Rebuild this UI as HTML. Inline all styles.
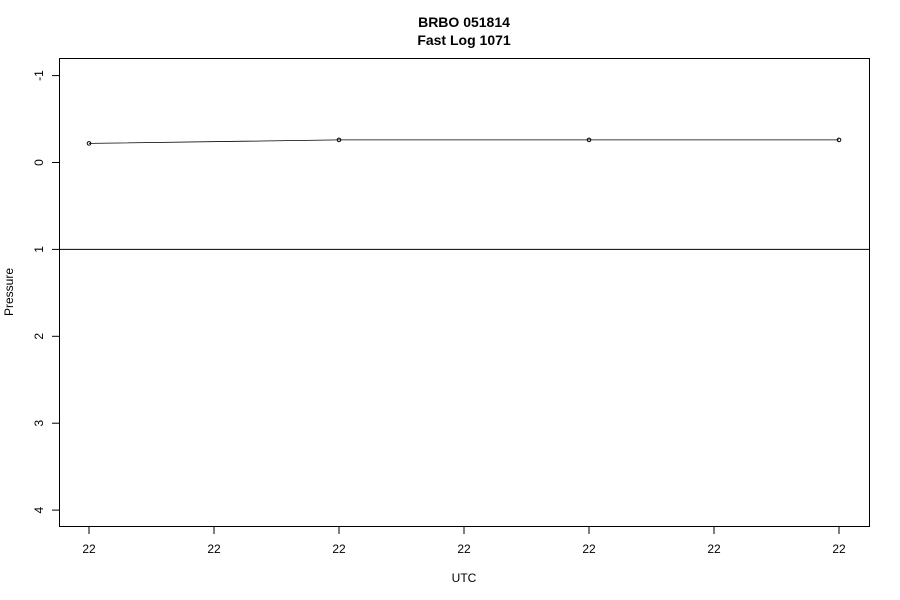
<!DOCTYPE html>
<html><head><meta charset="utf-8"><style>
body{margin:0;background:#fff;}
svg{display:block;font-family:"Liberation Sans",Arial,sans-serif;}
</style></head><body>
<svg id="chart" width="900" height="600">
<text x="464" y="27" text-anchor="middle" font-size="14" font-weight="bold">BRBO 051814</text>
<text x="464" y="45" text-anchor="middle" font-size="14" font-weight="bold">Fast Log 1071</text>
<rect x="59.5" y="58.5" width="810" height="468" fill="none" stroke="#000" stroke-width="1"/>
<text x="464" y="582" text-anchor="middle" font-size="12">UTC</text>
<text transform="translate(13,292) rotate(-90)" text-anchor="middle" font-size="12">Pressure</text>
<g id="axes"></g><g id="marks"></g>
</svg>
<script>
const xTickLabels=["22","22","22","22","22","22","22"];
const yTicks=[-1,0,1,2,3,4];
const xIdx=[0,2,4,6];
const pressure=[-0.22,-0.26,-0.26,-0.26];
const refLine=1;
const NS="http://www.w3.org/2000/svg";
function X(i){return 89+i*125;}
function Y(v){return 162.5+v*86.9;}
function mk(t,a,p){const e=document.createElementNS(NS,t);for(const k in a)e.setAttribute(k,a[k]);p.appendChild(e);return e;}
const ax=document.getElementById('axes'),mg=document.getElementById('marks');
xTickLabels.forEach((l,i)=>{
 const t=mk('line',{x1:X(i),x2:X(i),y1:527,y2:534,stroke:'#000'},ax);
 
 
 const s=mk('text',{x:X(i),y:553,'text-anchor':'middle','font-size':12},ax);s.textContent=l;
 
 
});
yTicks.forEach(v=>{
 const t=mk('line',{x1:52,x2:59,y1:Y(v),y2:Y(v),stroke:'#000'},ax);
 
 
 const s=mk('text',{transform:`translate(43,${Y(v)}) rotate(-90)`,'text-anchor':'middle','font-size':12},ax);s.textContent=String(v);
 
 
});
const h=mk('line',{x1:59.5,x2:869.5,y1:Y(refLine),y2:Y(refLine),stroke:'#000'},mg);


const pl=mk('polyline',{points:pressure.map((v,i)=>X(xIdx[i])+','+Y(v)).join(' '),fill:'none',stroke:'#000','stroke-width':0.8},mg);


pressure.forEach((v,i)=>{
 const c=mk('circle',{cx:X(xIdx[i]),cy:Y(v),r:1.8,fill:'none',stroke:'#000','stroke-width':1},mg);
 
 
});
</script>
</body></html>
